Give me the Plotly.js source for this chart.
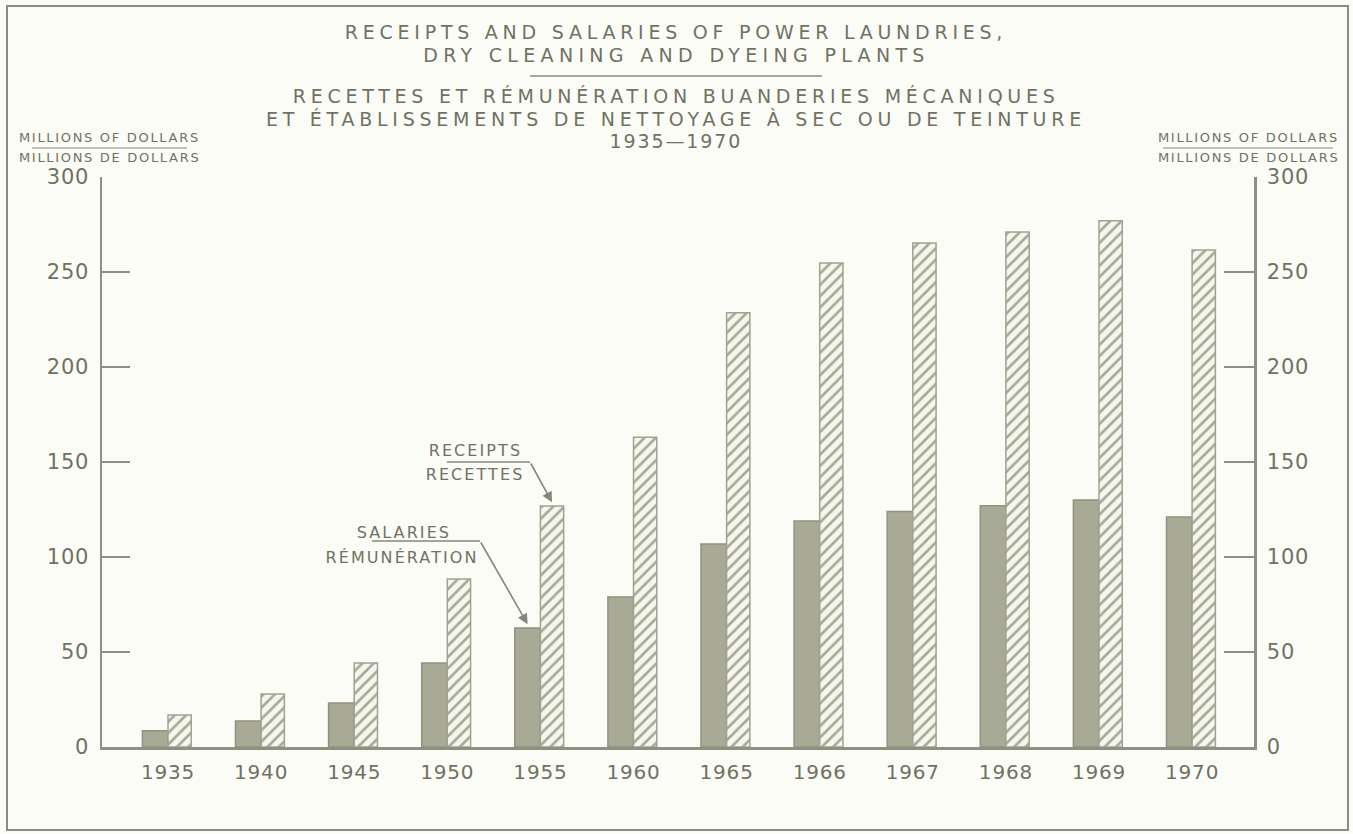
<!DOCTYPE html>
<html>
<head>
<meta charset="utf-8">
<script src="https://cdn.plot.ly/plotly-3.0.1.min.js"></script>
<style>
  html, body { margin: 0; padding: 0; background: #fcfcf7; }
  #chart { width: 1353px; height: 834px; }
  .main-svg text { letter-spacing: 0.13em; }
  .main-svg text.gtitle,
  .annotation[data-index="1"] text,
  .annotation[data-index="2"] text { letter-spacing: 0.25em; }
  .annotation[data-index="0"] text { letter-spacing: 0.28em; }
  .annotation[data-index="3"] text { letter-spacing: 0.1em; }
  .xtick text, .ytick text, .y2tick text { letter-spacing: 0.04em; }
</style>
</head>
<body>
<div id="chart"></div>
<script>
// ---- data ----
const years = ['1935','1940','1945','1950','1955','1960','1965','1966','1967','1968','1969','1970'];
const salaries = [8.5, 13.7, 23.2, 44.2, 62.6, 78.9, 106.8, 119, 124, 127, 130, 121];
const receipts = [16.8, 27.9, 44.2, 88.4, 126.8, 163, 228.5, 254.7, 265.3, 271, 277, 261.6];
const yTicks = [0, 50, 100, 150, 200, 250, 300];

const titleLines = [
  'RECEIPTS AND SALARIES OF POWER LAUNDRIES,',
  'DRY CLEANING AND DYEING PLANTS',
  'RECETTES ET RÉMUNÉRATION BUANDERIES MÉCANIQUES',
  'ET ÉTABLISSEMENTS DE NETTOYAGE À SEC OU DE TEINTURE',
  '1935—1970'
];
const unitEn = 'MILLIONS OF DOLLARS';
const unitFr = 'MILLIONS DE DOLLARS';
const receiptsLabel = ['RECEIPTS', 'RECETTES'];
const salariesLabel = ['SALARIES', 'RÉMUNÉRATION'];

// ---- styles ----
const ink = '#6f7262';
const axisCol = '#8e9082';
const FONT = 'DejaVu Sans, Liberation Sans, sans-serif';
const salW = 0.275, recW = 0.25;
const focus = 4; // index of 1955, where callouts point

const traces = [
  {
    type: 'bar', name: 'Salaries', x: years, y: salaries,
    offset: -salW, width: salW,
    marker: { color: '#a8aa95', line: { color: '#90927f', width: 1.5 } },
    hoverinfo: 'x+y'
  },
  {
    type: 'bar', name: 'Receipts', x: years, y: receipts, yaxis: 'y2',
    offset: 0, width: recW,
    marker: {
      color: '#a3a594',
      line: { color: '#a0a292', width: 1.5 },
      pattern: { shape: '/', bgcolor: '#f6f6ec', fgcolor: '#a5a796', size: 8, solidity: 0.32 }
    },
    hoverinfo: 'x+y'
  }
];

const yAxisCommon = {
  range: [0, 300], tickvals: yTicks, ticktext: yTicks.map(String),
  showgrid: false, zeroline: false, showline: true,
  linecolor: axisCol, linewidth: 2.5,
  ticks: 'inside', tickwidth: 2.5, tickcolor: axisCol,
  tickfont: { family: FONT, size: 21, color: ink },
  fixedrange: true
};

const paperY = py => (747 - py) / 570;
const paperX = px => (px - 102) / 1152;
const dataX = px => (px - 168) / 93.1;
const dataY = py => (747 - py) / 1.9;

const TCX = 676; // title centre, px
const annotations = [];
const titleY = [55, 96, 118.5, 141];
for (let i = 1; i < titleLines.length; i++) {
  annotations.push({
    xref: 'paper', yref: 'paper', x: paperX(TCX), y: paperY(titleY[i - 1]),
    xanchor: 'center', yanchor: 'middle', showarrow: false,
    text: titleLines[i], font: { family: FONT, size: 19, color: ink }
  });
}
// unit labels
[109.5, 1248].forEach(cx => {
  annotations.push({ xref: 'paper', yref: 'paper', x: paperX(cx), y: paperY(137.5),
    xanchor: 'center', yanchor: 'middle', showarrow: false, text: unitEn,
    font: { family: FONT, size: 13, color: ink } });
  annotations.push({ xref: 'paper', yref: 'paper', x: paperX(cx), y: paperY(158),
    xanchor: 'center', yanchor: 'middle', showarrow: false, text: unitFr,
    font: { family: FONT, size: 13, color: ink } });
});
// callout labels
annotations.push({ xref: 'x', yref: 'y', x: dataX(475.5), y: dataY(450), showarrow: false,
  text: receiptsLabel[0], font: { family: FONT, size: 16, color: ink } });
annotations.push({ xref: 'x', yref: 'y', x: dataX(475), y: dataY(474), showarrow: false,
  text: receiptsLabel[1], font: { family: FONT, size: 16, color: ink } });
annotations.push({ xref: 'x', yref: 'y', x: dataX(404), y: dataY(532), showarrow: false,
  text: salariesLabel[0], font: { family: FONT, size: 16, color: ink } });
annotations.push({ xref: 'x', yref: 'y', x: dataX(402), y: dataY(557), showarrow: false,
  text: salariesLabel[1], font: { family: FONT, size: 16, color: ink } });
// arrows to the 1955 bars
annotations.push({ xref: 'x', yref: 'y', axref: 'x', ayref: 'y',
  x: focus + recW / 2, y: receipts[focus] + 2, ax: dataX(530), ay: dataY(462),
  text: '', showarrow: true, arrowhead: 2, arrowsize: 1.3, arrowwidth: 1.6, arrowcolor: '#858777' });
annotations.push({ xref: 'x', yref: 'y', axref: 'x', ayref: 'y',
  x: focus - salW / 2, y: salaries[focus] + 2, ax: dataX(480), ay: dataY(541),
  text: '', showarrow: true, arrowhead: 2, arrowsize: 1.3, arrowwidth: 1.6, arrowcolor: '#858777' });

const shapes = [
  // outer frame
  { type: 'rect', xref: 'paper', yref: 'paper', x0: paperX(7), x1: paperX(1348), y0: paperY(830), y1: paperY(6),
    line: { color: '#8a8c7c', width: 2 }, layer: 'below' },
  // title separator
  { type: 'line', xref: 'paper', yref: 'paper', x0: paperX(530), x1: paperX(822), y0: paperY(76), y1: paperY(76),
    line: { color: '#8a8c7c', width: 1.5 } },
  // unit underlines
  { type: 'line', xref: 'paper', yref: 'paper', x0: paperX(32), x1: paperX(187), y0: paperY(148), y1: paperY(148),
    line: { color: '#8a8c7c', width: 1.2 } },
  { type: 'line', xref: 'paper', yref: 'paper', x0: paperX(1163), x1: paperX(1333), y0: paperY(148), y1: paperY(148),
    line: { color: '#8a8c7c', width: 1.2 } },
  // callout underlines
  { type: 'line', xref: 'x', yref: 'y', x0: dataX(447), x1: dataX(530), y0: dataY(462), y1: dataY(462),
    line: { color: '#858777', width: 1.6 } },
  { type: 'line', xref: 'x', yref: 'y', x0: dataX(372), x1: dataX(480), y0: dataY(541), y1: dataY(541),
    line: { color: '#858777', width: 1.6 } }
];

const layout = {
  width: 1353, height: 834,
  paper_bgcolor: '#fcfcf7', plot_bgcolor: '#fcfcf7',
  margin: { l: 102, r: 99, t: 177, b: 87 },
  showlegend: false,
  title: {
    text: titleLines[0], x: TCX / 1353, xanchor: 'center',
    y: 1 - 32.5 / 834, yanchor: 'middle',
    font: { family: FONT, size: 19, color: ink }
  },
  xaxis: {
    type: 'category', range: [dataX(102), dataX(1254)],
    showgrid: false, zeroline: false, showline: true,
    linecolor: axisCol, linewidth: 2.5, ticks: '',
    tickfont: { family: FONT, size: 20, color: ink },
    ticklabelstandoff: 5, fixedrange: true
  },
  yaxis: Object.assign({}, yAxisCommon, { side: 'left', ticklen: 28, ticklabelstandoff: 6 }),
  yaxis2: Object.assign({}, yAxisCommon, { side: 'right', overlaying: 'y', ticklen: 30, ticklabelstandoff: 6 }),
  annotations: annotations,
  shapes: shapes
};

Plotly.newPlot('chart', traces, layout, { displayModeBar: false, staticPlot: true });
</script>
</body>
</html>
